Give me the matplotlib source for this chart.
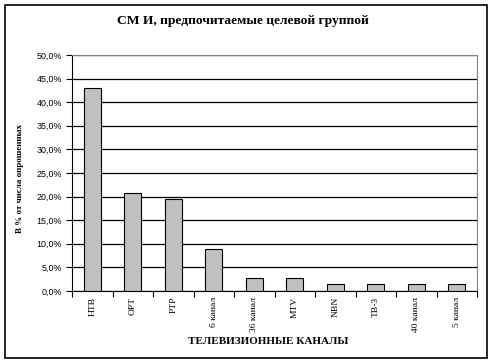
import numpy as np
import matplotlib.pyplot as plt
from matplotlib.patches import Rectangle
from matplotlib.ticker import FuncFormatter, FixedLocator

channels = ["НТВ", "ОРТ", "РТР", "6 канал", "36 канал", "MTV", "NBN", "ТВ-3", "40 канал", "5 канал"]
shares = [43.1, 20.8, 19.4, 9.0, 2.8, 2.8, 1.4, 1.4, 1.4, 1.4]

serif = ["Liberation Serif", "DejaVu Serif"]
sans = ["Liberation Sans", "DejaVu Sans"]

fig = plt.figure(figsize=(4.91, 3.63), dpi=100)
ax = fig.add_axes([72 / 491, 1 - 291 / 363, (477 - 72) / 491, (291 - 55) / 363])

x = np.arange(len(channels))
ax.bar(x, shares, width=0.42, color="#c0c0c0", edgecolor="black", linewidth=0.8, zorder=3)

ax.set_xlim(-0.5, len(channels) - 0.5)
ax.set_ylim(0, 50)
ax.set_yticks(np.arange(0, 51, 5))
ax.yaxis.set_major_formatter(FuncFormatter(lambda v, p: f"{v:.1f}%".replace(".", ",")))
ax.grid(axis="y", color="black", linewidth=0.9, zorder=1)

# category labels in the middle, tick marks on the boundaries
ax.set_xticks(x)
ax.set_xticklabels(channels, rotation=90, fontsize=6.8, family=serif)
ax.tick_params(axis="x", which="major", length=0, pad=4)
ax.xaxis.set_minor_locator(FixedLocator(np.arange(-0.5, len(channels), 1)))
ax.tick_params(axis="x", which="minor", length=4, width=0.8, direction="out")
ax.tick_params(axis="y", length=4, width=0.8, direction="out", labelsize=6.4, pad=3)
for lab in ax.get_yticklabels():
    lab.set_family(sans)

for s in ["top", "right"]:
    ax.spines[s].set_color("#808080")
for s in ["left", "bottom"]:
    ax.spines[s].set_color("black")
for s in ax.spines.values():
    s.set_linewidth(0.8)

fig.text(243 / 491, 1 - 21 / 363, "СМ И, предпочитаемые целевой группой", ha="center", va="center",
         fontsize=9.7, fontweight="bold", family=serif)
fig.text(20 / 491, 1 - 178 / 363, "В % от числа опрошенных", rotation=90, ha="center", va="center",
         fontsize=6.5, fontweight="bold", family=serif)
fig.text(268 / 491, 1 - 342 / 363, "ТЕЛЕВИЗИОННЫЕ КАНАЛЫ", ha="center", va="center",
         fontsize=8, fontweight="bold", family=serif)

# outer frame around the chart
fig.patches.append(Rectangle((4.5 / 491, 1 - 358 / 363), 482 / 491, 353.5 / 363,
                             transform=fig.transFigure, fill=False, edgecolor="black", linewidth=1.2))

fig.savefig("out.png", dpi=100)
